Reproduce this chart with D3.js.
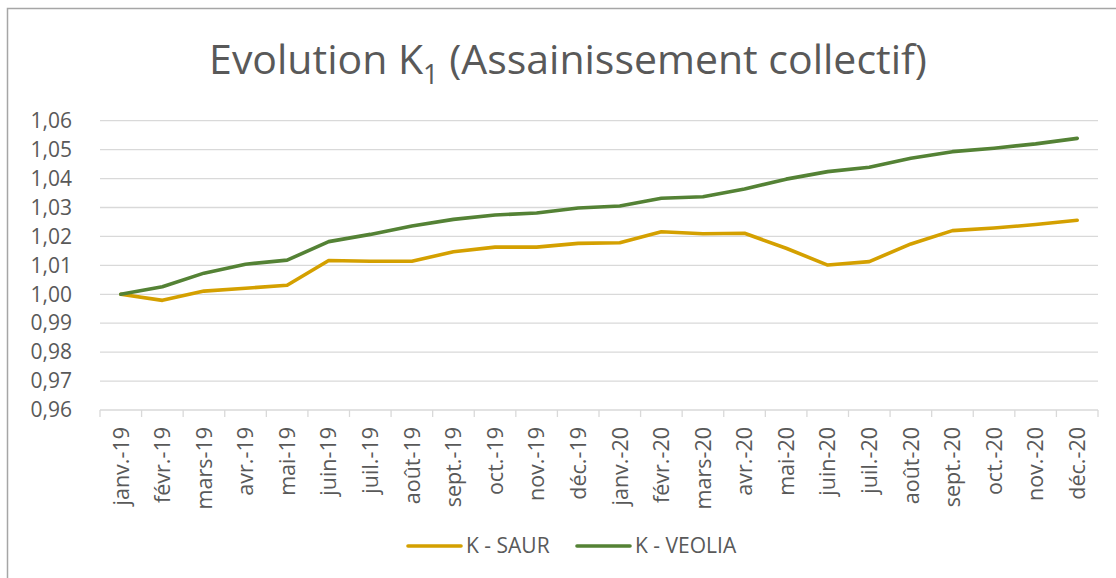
<!DOCTYPE html>
<html>
<head>
<meta charset="utf-8">
<script src="https://cdn.jsdelivr.net/npm/d3@7"></script>
<style>
  body { margin: 0; background: #fff; }
  text { font-family: "Open Sans", sans-serif; fill: #595959; }
</style>
</head>
<body>
<div class="main"></div>
<script>
const months = ["janv.-19","févr.-19","mars-19","avr.-19","mai-19","juin-19","juil.-19","août-19","sept.-19","oct.-19","nov.-19","déc.-19",
                "janv.-20","févr.-20","mars-20","avr.-20","mai-20","juin-20","juil.-20","août-20","sept.-20","oct.-20","nov.-20","déc.-20"];
const saur   = [1.0000,0.9979,1.0011,1.0021,1.0031,1.0117,1.0114,1.0114,1.0147,1.0163,1.0163,1.0176,
                1.0178,1.0216,1.0209,1.0211,1.0159,1.0101,1.0113,1.0174,1.0220,1.0229,1.0241,1.0256];
const veolia = [1.0000,1.0026,1.0073,1.0104,1.0118,1.0182,1.0207,1.0236,1.0259,1.0274,1.0281,1.0298,
                1.0305,1.0332,1.0337,1.0364,1.0398,1.0424,1.0439,1.0470,1.0493,1.0505,1.0520,1.0539];
const yTicks = [0.96,0.97,0.98,0.99,1.00,1.01,1.02,1.03,1.04,1.05,1.06];
const seriesNames = ["K - SAUR","K - VEOLIA"];
const colors = ["#d4a000","#548235"];

const w = 1116, h = 578;
const plotLeft = 100, plotRight = 1098, plotTop = 120.7, plotBottom = 410;

const svg = d3.select(".main").append("svg")
  .attr("width", w).attr("height", h);

// chart border
svg.append("rect")
  .attr("x", 7.5).attr("y", 8.5)
  .attr("width", w + 10).attr("height", h + 10)
  .attr("fill", "none").attr("stroke", "#a6a6a6").attr("stroke-width", 1.5);

const xScale = d3.scaleBand().domain(months).range([plotLeft, plotRight]);
const yScale = d3.scaleLinear().domain([0.96, 1.06]).range([plotBottom, plotTop]);

const fr = d3.formatLocale({decimal: ",", thousands: " ", grouping: [3], currency: ["", "€"]});
const fmt = fr.format(".2f");

// gridlines
svg.append("g")
  .selectAll("line")
  .data(yTicks)
  .enter()
  .append("line")
  .attr("x1", plotLeft).attr("x2", plotRight)
  .attr("y1", d => yScale(d)).attr("y2", d => yScale(d))
  .attr("stroke", "#d9d9d9").attr("stroke-width", 1.3);

// y labels
const yAxis = d3.axisLeft(yScale).tickValues(yTicks).tickFormat(fmt).tickSize(0).tickPadding(28);
const gy = svg.append("g").attr("transform", "translate(" + plotLeft + ",0)").call(yAxis);
gy.select(".domain").remove();
gy.selectAll("text").style("font-size", "21px").style("font-family", "'Open Sans', sans-serif").attr("fill", "#595959");

// x ticks at band edges
const edges = months.map(m => xScale(m)).concat([xScale.range()[1]]);
svg.append("g")
  .selectAll("line")
  .data(edges)
  .enter()
  .append("line")
  .attr("x1", d => d).attr("x2", d => d)
  .attr("y1", plotBottom).attr("y2", plotBottom + 7)
  .attr("stroke", "#d9d9d9").attr("stroke-width", 1.3);

// x labels
const xAxis = d3.axisBottom(xScale).tickSize(0).tickPadding(0);
const gx = svg.append("g").attr("transform", "translate(0," + plotBottom + ")").call(xAxis);
gx.select(".domain").remove();
gx.selectAll("text")
  .style("font-size", "21.5px").style("font-family", "'Open Sans', sans-serif").attr("fill", "#595959")
  .attr("text-anchor", "end")
  .attr("transform", "rotate(-90)")
  .attr("x", -17).attr("y", 0).attr("dy", "0.36em");

// lines
const line = d3.line()
  .x((d, i) => xScale(months[i]) + xScale.bandwidth() / 2)
  .y(d => yScale(d));

[saur, veolia].forEach((s, k) => {
  svg.append("path")
    .datum(s)
    .attr("d", line)
    .attr("fill", "none")
    .attr("stroke", colors[k])
    .attr("stroke-width", 3.6)
    .attr("stroke-linejoin", "round")
    .attr("stroke-linecap", "round");
});

// title
const title = svg.append("text")
  .attr("x", 568).attr("y", 74)
  .style("text-anchor", "middle")
  .style("font-size", "41px");
title.append("tspan").text("Evolution K");
title.append("tspan").attr("dy", 10).style("font-size", "27px").text("1");
title.append("tspan").attr("dy", -10).text(" (Assainissement collectif)");

// legend
const legendX = [408, 577];
seriesNames.forEach((name, k) => {
  svg.append("line")
    .attr("x1", legendX[k]).attr("x2", legendX[k] + 53)
    .attr("y1", 546).attr("y2", 546)
    .attr("stroke", colors[k]).attr("stroke-width", 3.6)
    .attr("stroke-linecap", "round");
  svg.append("text")
    .attr("x", legendX[k] + 58).attr("y", 553)
    .style("font-size", "21px")
    .text(name);
});
</script>
</body>
</html>
